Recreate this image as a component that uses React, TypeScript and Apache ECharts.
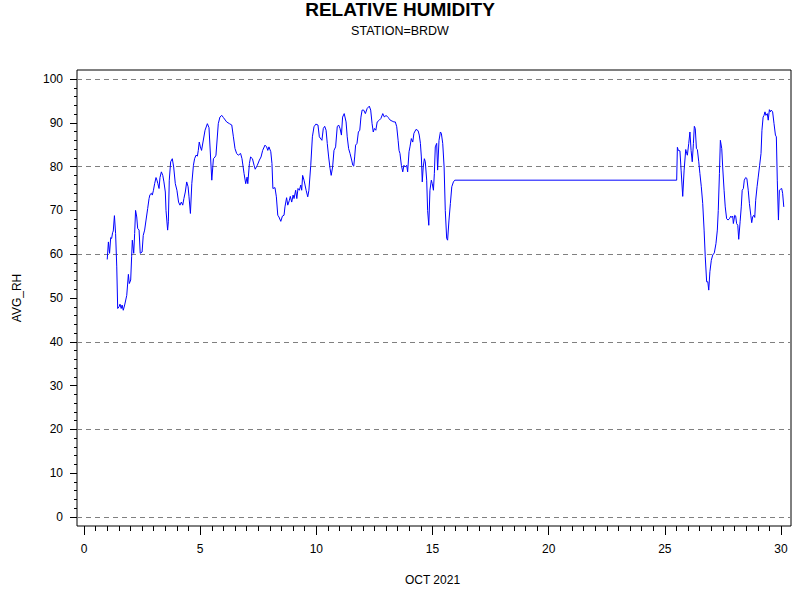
import React, { useEffect, useRef } from "react";
import * as echarts from "echarts";

// day of October 2021 (fractional) and average relative humidity
const days: number[] = [
  1.0, 1.05, 1.1, 1.15, 1.19, 1.23, 1.26, 1.31, 1.36, 1.41, 1.45, 1.51, 1.55, 1.6, 1.64, 1.69, 1.75, 1.84,
  1.91, 1.95, 2.01, 2.05, 2.08, 2.14, 2.18, 2.22, 2.27, 2.31, 2.37, 2.42, 2.5, 2.55, 2.61, 2.67, 2.74, 2.8,
  2.84, 2.9, 2.94, 2.99, 3.04, 3.1, 3.14, 3.18, 3.23, 3.27, 3.33, 3.39, 3.44, 3.5, 3.53, 3.6, 3.63, 3.67,
  3.73, 3.8, 3.86, 3.93, 4.0, 4.07, 4.13, 4.19, 4.25, 4.3, 4.36, 4.42, 4.48, 4.52, 4.58, 4.64, 4.71, 4.76,
  4.82, 4.88, 4.92, 4.96,
  5.01, 5.06, 5.21, 5.31, 5.38, 5.5, 5.57, 5.64, 5.68, 5.78, 5.85, 5.93, 6.0, 6.14, 6.26, 6.36, 6.43, 6.5,
  6.57, 6.64, 6.74, 6.8, 6.89, 6.96, 7.02, 7.05, 7.12, 7.17, 7.25, 7.32, 7.37, 7.46, 7.55, 7.62, 7.69, 7.79,
  7.86, 7.91, 7.96, 8.04, 8.09, 8.13, 8.22, 8.28, 8.34, 8.39, 8.47, 8.54, 8.61, 8.65, 8.72, 8.77, 8.84, 8.88,
  8.94, 9.0, 9.04, 9.11, 9.16, 9.21, 9.27, 9.33, 9.37, 9.41, 9.47, 9.56, 9.63, 9.68, 9.76, 9.83, 9.9, 9.98,
  10.07, 10.13,
  10.24, 10.3, 10.36, 10.42, 10.47, 10.53, 10.59, 10.64, 10.7, 10.76, 10.83, 10.9, 10.96, 11.02, 11.08,
  11.13, 11.2, 11.28, 11.33, 11.39, 11.45, 11.52, 11.57, 11.61, 11.65, 11.69, 11.75, 11.81, 11.87, 11.92,
  11.97, 12.04, 12.11, 12.19, 12.28, 12.34, 12.4, 12.45, 12.5, 12.56, 12.62, 12.71, 12.78, 12.86, 12.93,
  13.0, 13.07, 13.13, 13.18, 13.26, 13.34, 13.4, 13.46, 13.52, 13.56, 13.6, 13.66, 13.72, 13.77, 13.83,
  13.89, 13.93, 13.99, 14.03, 14.09, 14.15, 14.2, 14.29, 14.38, 14.43, 14.48, 14.52, 14.56, 14.6, 14.65,
  14.69, 14.75, 14.79, 14.84, 14.89, 14.95, 14.99, 15.04, 15.08, 15.12, 15.18, 15.22, 15.28, 15.34, 15.38,
  15.44, 15.5, 15.55, 15.61, 15.65, 15.71, 15.77, 15.83, 15.9, 15.96,
  25.51, 25.54, 25.58, 25.65, 25.7, 25.77, 25.83, 25.9, 25.94, 25.97, 26.03, 26.08, 26.13, 26.18, 26.23,
  26.27, 26.31, 26.36, 26.4, 26.46, 26.51, 26.57, 26.63, 26.69, 26.74, 26.8, 26.85, 26.89, 26.94, 27.0,
  27.06, 27.13, 27.2, 27.26, 27.3, 27.35, 27.39, 27.45, 27.49, 27.55, 27.6, 27.66, 27.72, 27.78, 27.84,
  27.88, 27.92, 27.95, 28.01, 28.05, 28.09, 28.14, 28.18, 28.24, 28.29, 28.33, 28.38, 28.42, 28.48, 28.53,
  28.59, 28.64, 28.7, 28.74, 28.78, 28.83, 28.87, 28.91, 28.97, 29.02, 29.08, 29.14, 29.18, 29.23, 29.27,
  29.31, 29.35, 29.41, 29.45, 29.5, 29.54, 29.58, 29.64, 29.7, 29.76, 29.8, 29.84, 29.89, 29.93, 29.97,
  30.03, 30.07, 30.12,
];

const avgRh: number[] = [
  58.8, 62.8, 60.2, 63.8, 63.6, 64.9, 65.3, 68.8, 64.7, 57.1, 47.6, 48.0, 48.6, 47.6, 48.4, 47.2, 48.4, 50.6,
  55.4, 53.3, 54.1, 59.4, 63.2, 60.2, 64.7, 70.0, 68.5, 65.9, 65.5, 60.2, 60.5, 64.3, 65.5, 67.8, 70.4, 72.7,
  73.6, 73.9, 73.5, 74.6, 76.1, 77.5, 76.9, 76.1, 75.0, 77.5, 78.8, 78.0, 76.5, 74.2, 70.0, 65.5, 67.4, 76.9,
  81.1, 81.8, 79.9, 76.1, 74.6, 71.9, 71.2, 71.9, 71.2, 72.7, 74.2, 76.5, 75.4, 73.1, 69.3, 76.1, 80.3, 81.8,
  82.6, 82.4, 83.7, 85.6,
  84.5, 83.7, 88.3, 89.8, 88.9, 76.9, 81.8, 82.2, 82.6, 89.8, 91.3, 91.7, 91.2, 90.2, 89.8, 89.5, 86.8, 84.1,
  83.0, 82.6, 83.0, 81.8, 78.4, 76.1, 77.6, 76.1, 80.7, 82.2, 81.8, 80.3, 79.4, 80.3, 81.5, 82.2, 83.7, 84.9,
  84.5, 83.7, 84.5, 83.4, 80.7, 75.0, 75.2, 73.1, 68.9, 68.5, 67.5, 68.7, 68.9, 70.8, 72.9, 71.2, 72.3, 73.2,
  71.9, 73.5, 72.7, 74.6, 72.7, 75.0, 74.6, 75.8, 74.6, 78.0, 76.9, 74.6, 73.1, 74.6, 80.3, 86.8, 89.1, 89.7,
  89.5, 86.8,
  86.0, 88.7, 89.2, 88.3, 85.3, 82.2, 79.6, 78.0, 79.9, 83.7, 84.5, 89.1, 89.5, 88.7, 87.2,
  91.3, 92.1, 90.2, 86.8, 84.1, 83.0, 81.5, 80.3, 80.1, 82.2, 84.9, 85.3, 87.9, 88.3, 91.3,
  92.9, 92.9, 92.1, 93.3, 93.8, 92.9, 89.8, 87.9, 88.7, 88.3, 90.2, 90.6, 91.0, 92.1, 91.3,
  91.7, 91.3, 91.0, 90.6, 90.4, 90.2, 90.2, 89.1, 86.0, 83.7, 83.0, 80.3, 78.8, 80.3, 79.9,
  80.3, 78.8, 83.4, 84.5, 86.4, 85.6, 87.6, 88.5, 88.2, 87.2, 85.3, 82.2, 76.5, 79.9, 81.8,
  81.1, 76.9, 70.0, 66.6, 74.6, 76.9, 76.1, 74.6, 78.4, 84.5, 85.3, 79.2, 86.0, 87.9, 87.6,
  85.3, 79.9, 70.0, 63.6, 63.2, 67.8, 71.6, 75.4, 76.5, 76.9,
  76.9, 84.4, 83.7, 83.6, 79.2, 73.2, 79.2, 83.9, 83.0, 82.6, 85.3, 87.9, 83.7, 81.1, 85.3,
  89.2, 88.7, 84.1, 83.9, 81.1, 78.4, 75.4, 71.6, 65.5, 59.4, 53.7, 53.7, 51.8, 56.0, 58.6,
  59.8, 60.3, 62.4, 65.5, 70.0, 78.4, 86.0, 84.1, 79.9, 74.6, 70.8, 68.1, 67.8, 68.1, 68.7,
  68.4, 68.7, 67.0, 68.9, 68.7, 67.0, 66.6, 63.4, 67.4, 70.8, 74.6, 75.0, 76.9, 77.5, 77.3,
  74.6, 71.6, 68.9, 67.2, 68.5, 68.9, 68.4, 72.3, 75.4, 77.6, 80.3, 83.0, 88.3, 91.3, 91.7,
  92.5, 91.7, 92.1, 90.6, 93.0, 92.5, 92.9, 92.5, 89.8, 87.2, 86.8, 76.9, 67.8, 74.6, 74.8,
  75.0, 73.9, 70.8,
];

// tick labels every 10, dashed reference lines every 20
const yTicks = { min: 0, max: 100, step: 10, gridStep: 20 };
const xTicks = { min: 0, max: 30, step: 5 };

const FONT = "Liberation Sans";

const App: React.FC = () => {
  const chartRef = useRef<HTMLDivElement>(null);

  useEffect(() => {
    document.body.style.margin = "0";
    if (!chartRef.current) return;
    const chart = echarts.init(chartRef.current, undefined, { renderer: "svg" });

    const points = days.map((d, i) => [d, avgRh[i]]);

    // plot box is 77..791 x 70..526; x 0..30 spans 84..781, y 0..100 spans 517..79
    const pxPerDay = (781 - 84) / 30;
    const pxPerRh = (517 - 79) / 100;

    const option: echarts.EChartsOption = {
      animation: false,
      backgroundColor: "#fff",
      textStyle: { fontFamily: FONT, color: "#000" },
      title: {
        text: "RELATIVE HUMIDITY",
        subtext: "STATION=BRDW",
        left: "center",
        top: 0,
        padding: 0,
        itemGap: 5,
        textStyle: { fontFamily: FONT, fontSize: 19, fontWeight: "bold", color: "#000" },
        subtextStyle: { fontFamily: FONT, fontSize: 12.5, color: "#000" },
      },
      grid: [
        // frame
        { left: 77, right: 9, top: 70, bottom: 74, show: true, borderColor: "#000", borderWidth: 1, backgroundColor: "transparent" },
        // y scale
        { left: 77, right: 9, top: 79, bottom: 83 },
        // x scale
        { left: 84, right: 19, top: 70, bottom: 74 },
      ],
      xAxis: [
        { gridIndex: 0, type: "value", show: false, min: 0, max: 1 },
        {
          gridIndex: 1,
          type: "value",
          show: false,
          min: xTicks.min - 7 / pxPerDay,
          max: xTicks.max + 10 / pxPerDay,
        },
        {
          gridIndex: 2,
          type: "value",
          min: xTicks.min,
          max: xTicks.max,
          interval: xTicks.step,
          name: "OCT 2021",
          nameLocation: "middle",
          nameGap: 48,
          nameTextStyle: { fontFamily: FONT, fontSize: 12, color: "#000" },
          axisLine: { show: false, onZero: false },
          axisTick: { show: true, length: 9, lineStyle: { color: "#000", width: 1 } },
          minorTick: { show: true, splitNumber: 10, length: 5, lineStyle: { color: "#000", width: 1 } },
          axisLabel: { margin: 17, fontFamily: FONT, fontSize: 12, color: "#000" },
          splitLine: { show: false },
        },
      ],
      yAxis: [
        { gridIndex: 0, type: "value", show: false, min: 0, max: 1 },
        {
          gridIndex: 1,
          type: "value",
          min: yTicks.min,
          max: yTicks.max,
          interval: yTicks.step,
          name: "AVG_RH",
          nameLocation: "middle",
          nameGap: 54,
          nameTextStyle: { fontFamily: FONT, fontSize: 12, color: "#000" },
          axisLine: { show: false, onZero: false },
          axisTick: { show: true, length: 7, lineStyle: { color: "#000", width: 1 } },
          minorTick: { show: true, splitNumber: 5, length: 3, lineStyle: { color: "#000", width: 1 } },
          axisLabel: { margin: 14, fontFamily: FONT, fontSize: 12, color: "#000" },
          splitLine: { show: false },
        },
        {
          gridIndex: 2,
          type: "value",
          show: false,
          min: yTicks.min - 9 / pxPerRh,
          max: yTicks.max + 9 / pxPerRh,
        },
        {
          gridIndex: 1,
          type: "value",
          min: yTicks.min,
          max: yTicks.max,
          interval: yTicks.gridStep,
          axisLine: { show: false, onZero: false },
          axisTick: { show: false },
          axisLabel: { show: false },
          splitLine: { show: true, lineStyle: { color: "#808080", width: 1, type: [5, 4] } },
        },
      ],
      series: [
        {
          type: "line",
          xAxisIndex: 1,
          yAxisIndex: 1,
          data: points,
          showSymbol: false,
          symbol: "none",
          lineStyle: { color: "#0000ff", width: 1 },
          clip: false,
          z: 5,
        },
      ],
    };

    chart.setOption(option);
    return () => chart.dispose();
  }, []);

  return <div ref={chartRef} style={{ width: 800, height: 600 }} />;
};

export default App;
